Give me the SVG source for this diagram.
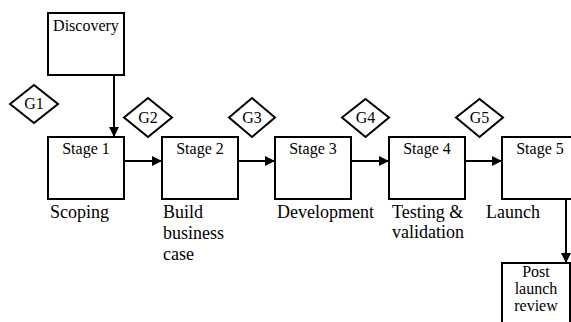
<svg xmlns="http://www.w3.org/2000/svg" width="571" height="322" viewBox="0 0 571 322" font-family="'Liberation Serif', 'Times New Roman', 'DejaVu Serif', serif">
<style>
.box{fill:#fff;stroke:#000;stroke-width:2}
.gate{fill:#fff;stroke:#000;stroke-width:2}
text{font-family:'Liberation Serif','Times New Roman','DejaVu Serif',serif;fill:#000}
.s{font-size:16px;text-anchor:middle}
.g{font-size:16px;text-anchor:middle}
.l{font-size:18px}
.c{stroke:#000;stroke-width:2;fill:none;marker-end:url(#ah)}
</style>
<defs>
<marker id="ah" markerWidth="10" markerHeight="10" refX="10" refY="5" orient="auto" markerUnits="userSpaceOnUse">
<path d="M0,0 L10,5 L0,10 Z" fill="#000"/>
</marker>
</defs>
<rect width="571" height="322" fill="#fff"/>
<g id="connectors">
<line class="c" x1="114" y1="75" x2="114" y2="137"/>
<line class="c" x1="124" y1="161" x2="162" y2="161"/>
<line class="c" x1="238" y1="161" x2="275" y2="161"/>
<line class="c" x1="351" y1="161" x2="389" y2="161"/>
<line class="c" x1="465" y1="161" x2="502" y2="161"/>
<line class="c" x1="566" y1="199" x2="566" y2="263"/>
</g>
<g id="discovery"><rect class="box" x="48" y="13" width="76" height="62"/><text class="s" x="86" y="31">Discovery</text></g>
<g id="stage1"><rect class="box" x="48" y="137" width="76" height="62"/><text class="s" x="86" y="154">Stage 1</text><text class="l" x="50" y="218">Scoping</text></g>
<g id="stage2"><rect class="box" x="162" y="137" width="76" height="62"/><text class="s" x="200" y="154">Stage 2</text><text class="l" x="163" y="218">Build</text><text class="l" x="163" y="239">business</text><text class="l" x="163" y="260">case</text></g>
<g id="stage3"><rect class="box" x="275" y="137" width="76" height="62"/><text class="s" x="313" y="154">Stage 3</text><text class="l" x="277" y="218">Development</text></g>
<g id="stage4"><rect class="box" x="389" y="137" width="76" height="62"/><text class="s" x="427" y="154">Stage 4</text><text class="l" x="392" y="218">Testing &amp;</text><text class="l" x="392" y="238">validation</text></g>
<g id="stage5"><rect class="box" x="502" y="137" width="76" height="62"/><text class="s" x="540" y="154">Stage 5</text><text class="l" x="486" y="218">Launch</text></g>
<g id="postlaunch"><rect class="box" x="502" y="263" width="68" height="70"/><text class="s" x="536" y="277">Post</text><text class="s" x="536" y="294">launch</text><text class="s" x="536" y="311">review</text></g>
<g id="g1"><polygon class="gate" points="10,104 34,85 58,104 34,123"/><text class="g" x="34" y="109">G1</text></g>
<g id="g2"><polygon class="gate" points="124,117.5 148,98 172,117.5 148,137"/><text class="g" x="148" y="123">G2</text></g>
<g id="g3"><polygon class="gate" points="229,117.5 252,98 275,117.5 252,137"/><text class="g" x="252" y="123">G3</text></g>
<g id="g4"><polygon class="gate" points="342,117.5 365.5,99 389,117.5 365.5,137"/><text class="g" x="365.5" y="123">G4</text></g>
<g id="g5"><polygon class="gate" points="456,117.5 479.5,99 503,117.5 479.5,137"/><text class="g" x="479.5" y="123">G5</text></g>
</svg>
